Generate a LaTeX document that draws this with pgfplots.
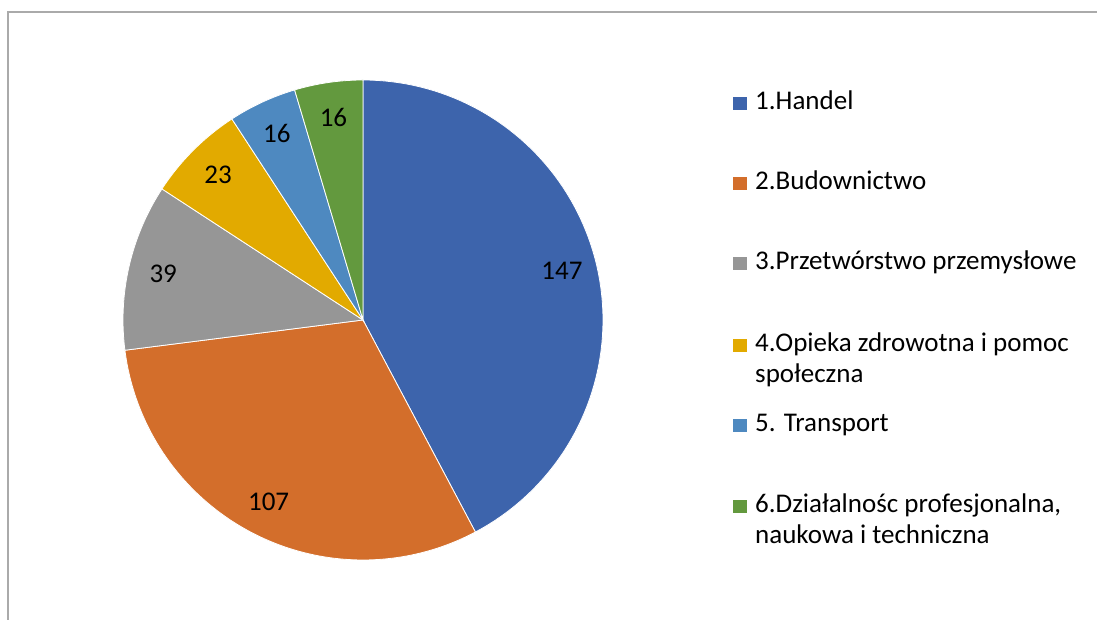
\documentclass[border=0pt]{standalone}
\usepackage{pgfplots}
\pgfplotsset{compat=1.18}
\usepackage{pgfplotstable}
\usepackage{fontspec}
\setmainfont{Carlito}

\definecolor{c0}{RGB}{61,100,172}
\definecolor{c1}{RGB}{211,110,43}
\definecolor{c2}{RGB}{150,150,150}
\definecolor{c3}{RGB}{226,170,0}
\definecolor{c4}{RGB}{78,137,192}
\definecolor{c5}{RGB}{99,153,62}
\definecolor{framegray}{RGB}{170,170,170}

\pgfplotstableread{
value
147
107
39
23
16
16
}\piedata

\begin{document}
\begin{tikzpicture}
% cumulative angles computed from the values
\xdef\total{0}
\foreach \i in {0,...,5}{%
  \pgfplotstablegetelem{\i}{value}\of\piedata
  \pgfmathparse{\total+\pgfplotsretval}%
  \xdef\total{\pgfmathresult}%
}
\pgfmathsetmacro\dpu{360/\total}
\xdef\dpu{\dpu}
\xdef\cum{0}
\foreach \i in {0,...,5}{%
  \pgfplotstablegetelem{\i}{value}\of\piedata
  \let\v\pgfplotsretval
  \pgfmathsetmacro\sa{90-\dpu*\cum}%
  \pgfmathsetmacro\ea{90-\dpu*(\cum+\v)}%
  \pgfmathsetmacro\ma{(\sa+\ea)/2}%
  \pgfmathsetmacro\lx{363+205*cos(\ma)}%
  \pgfmathsetmacro\ly{300+205*sin(\ma)}%
  \expandafter\xdef\csname sa\i\endcsname{\sa}%
  \expandafter\xdef\csname ea\i\endcsname{\ea}%
  \expandafter\xdef\csname lx\i\endcsname{\lx}%
  \expandafter\xdef\csname ly\i\endcsname{\ly}%
  \expandafter\xdef\csname val\i\endcsname{\v}%
  \pgfmathparse{\cum+\v}%
  \xdef\cum{\pgfmathresult}%
}
\begin{axis}[
  width=1097pt, height=620pt, scale only axis,
  hide axis, clip=false,
  xmin=0, xmax=1097, ymin=0, ymax=620,
]
\pgfplotsinvokeforeach{0,...,5}{
  \addplot[fill=c#1, draw=white, line width=0.8pt, samples=90, variable=\t,
    domain={\csname ea#1\endcsname}:{\csname sa#1\endcsname}]
    ({363+240*cos(\t)},{300+240*sin(\t)}) -- (axis cs:363,300) -- cycle;
}
\pgfplotsinvokeforeach{0,...,5}{
  \node[font=\fontsize{27}{31}\selectfont, text=black]
    at (axis cs:\csname lx#1\endcsname,\csname ly#1\endcsname) {\csname val#1\endcsname};
}
% frame
\draw[framegray, line width=1.3pt] (axis cs:8,-10) -- (axis cs:8,608) -- (axis cs:1110,608);
% legend
\fill[c0] (axis cs:733,510) rectangle (axis cs:747,523);
\fill[c1] (axis cs:733,430) rectangle (axis cs:747,443);
\fill[c2] (axis cs:733,350) rectangle (axis cs:747,363);
\fill[c3] (axis cs:733,268) rectangle (axis cs:747,281);
\fill[c4] (axis cs:733,188) rectangle (axis cs:747,201);
\fill[c5] (axis cs:733,107) rectangle (axis cs:747,120);
\begin{scope}[every node/.style={anchor=base west, inner sep=0pt, font=\fontsize{27}{31}\selectfont, text=black}]
\node at (axis cs:755,510) {1.Handel};
\node at (axis cs:755,430) {2.Budownictwo};
\node at (axis cs:755,350) {3.Przetwórstwo przemysłowe};
\node at (axis cs:755,268) {4.Opieka zdrowotna i pomoc};
\node at (axis cs:755,237) {społeczna};
\node at (axis cs:755,188) {5. Transport};
\node at (axis cs:755,107) {6.Działalnośc profesjonalna,};
\node at (axis cs:755,76) {naukowa i techniczna};
\end{scope}
\end{axis}
\pgfresetboundingbox
\useasboundingbox (0,0) rectangle (1097pt,620pt);
\end{tikzpicture}
\end{document}
